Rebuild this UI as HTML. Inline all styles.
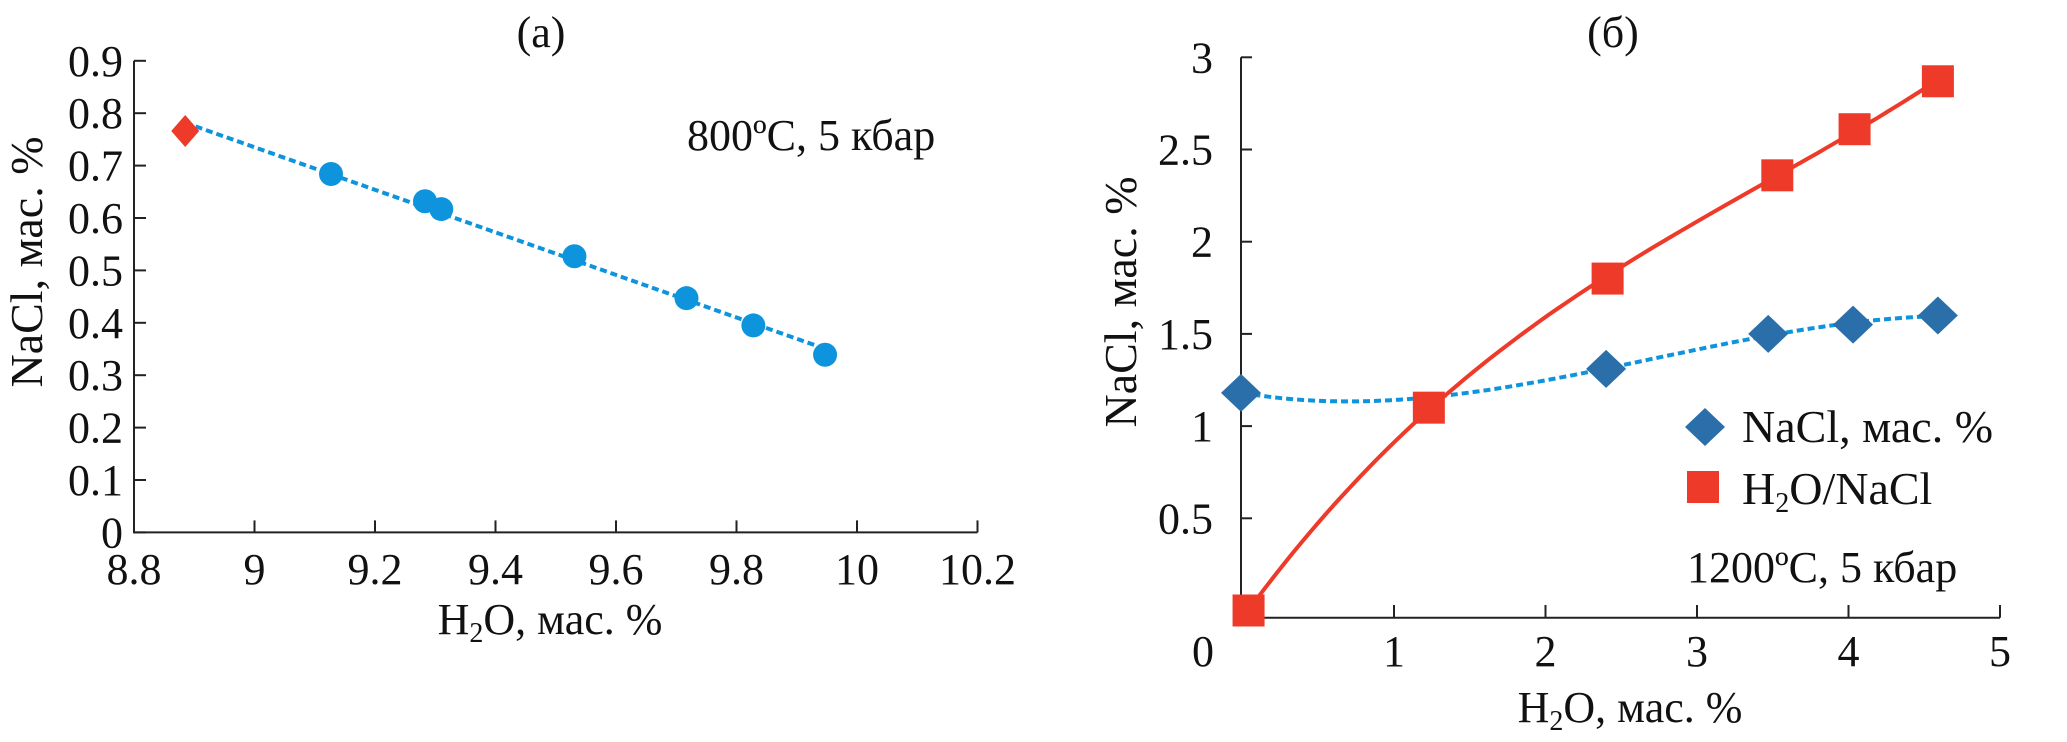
<!DOCTYPE html>
<html><head><meta charset="utf-8"><style>
html,body{margin:0;padding:0;background:#fff;}
svg{display:block;font-family:"Liberation Serif","DejaVu Serif",serif;}
</style></head><body>
<svg id="c" width="2067" height="742" viewBox="0 0 2067 742" xmlns="http://www.w3.org/2000/svg">
<g id="pa"></g>
<g id="pb"></g>
</svg>
<script>
// Panel (a) data
const aXTicks = [8.8, 9, 9.2, 9.4, 9.6, 9.8, 10, 10.2];
const aXTickLabels = ["8.8", "9", "9.2", "9.4", "9.6", "9.8", "10", "10.2"];
const aYTicks = [0, 0.1, 0.2, 0.3, 0.4, 0.5, 0.6, 0.7, 0.8, 0.9];
const aYTickLabels = ["0", "0.1", "0.2", "0.3", "0.4", "0.5", "0.6", "0.7", "0.8", "0.9"];
const aDiamondX = [8.885];
const aDiamondY = [0.766];
const aCircleX = [9.127, 9.283, 9.31, 9.531, 9.717, 9.828, 9.947];
const aCircleY = [0.684, 0.632, 0.617, 0.527, 0.447, 0.395, 0.339];
// Panel (b) data
const bXTicks = [0, 1, 2, 3, 4, 5];
const bXTickLabels = ["0", "1", "2", "3", "4", "5"];
const bYTicks = [0.5, 1, 1.5, 2, 2.5, 3];
const bYTickLabels = ["0.5", "1", "1.5", "2", "2.5", "3"];
const bNaclX = [0, 2.40, 3.47, 4.03, 4.59];
const bNaclY = [1.18, 1.31, 1.50, 1.55, 1.60];
const bH2oX = [0.04, 1.23, 2.41, 3.53, 4.04, 4.59];
const bH2oY = [0.00, 1.10, 1.80, 2.36, 2.61, 2.87];

const NS = "http://www.w3.org/2000/svg";
function mk(parent, tag, attrs, text) {
  const e = document.createElementNS(NS, tag);
  for (const k in attrs) e.setAttribute(k, attrs[k]);
  if (text !== undefined) e.textContent = text;
  parent.appendChild(e);
  return e;
}
function polyfit(xs, ys, deg) {
  const n = xs.length, A = [], B = [];
  for (let r=0;r<=deg;r++){A.push([]);for(let c=0;c<=deg;c++){let s=0;for(let i=0;i<n;i++)s+=Math.pow(xs[i],r+c);A[r].push(s);}let s=0;for(let i=0;i<n;i++)s+=ys[i]*Math.pow(xs[i],r);B.push(s);}
  for (let i=0;i<=deg;i++){let p=i;for(let k=i+1;k<=deg;k++)if(Math.abs(A[k][i])>Math.abs(A[p][i]))p=k;[A[i],A[p]]=[A[p],A[i]];[B[i],B[p]]=[B[p],B[i]];
    for(let k=i+1;k<=deg;k++){const f=A[k][i]/A[i][i];for(let c=i;c<=deg;c++)A[k][c]-=f*A[i][c];B[k]-=f*B[i];}}
  const co = new Array(deg+1).fill(0);
  for (let i=deg;i>=0;i--){let s=B[i];for(let c=i+1;c<=deg;c++)s-=A[i][c]*co[c];co[i]=s/A[i][i];}
  return co;
}
const BLUE = "#0e94dc", DBLUE = "#2a6fa9", RED = "#ee3a29", AX = "#222";

// ---------- Panel (a)
const pa = document.getElementById("pa");
const ax = v => 134 + (v - 8.8) * 602.5;
const ay = v => 532.4 - v * 524;
let e;
e = mk(pa, "path", {d: `M${ax(8.8)},${ay(0.9)} L${ax(8.8)},${ay(0)} L${ax(10.2)},${ay(0)}`, fill: "none", stroke: AX, "stroke-width": 2});


aYTicks.forEach((t, i) => {
  e = mk(pa, "line", {x1: ax(8.8), x2: ax(8.8) + 12, y1: ay(t), y2: ay(t), stroke: AX, "stroke-width": 2});
  
  
  e = mk(pa, "text", {x: 123, y: ay(t) + 15, "text-anchor": "end", "font-size": 44, fill: "#111"}, aYTickLabels[i]);
  
  
});
aXTicks.forEach((t, i) => {
  if (i > 0) {
    e = mk(pa, "line", {x1: ax(t), x2: ax(t), y1: ay(0), y2: ay(0) - 12, stroke: AX, "stroke-width": 2});
    
    
  }
  e = mk(pa, "text", {x: ax(t), y: 584, "text-anchor": "middle", "font-size": 44, fill: "#111"}, aXTickLabels[i]);
  
  
});
(function(){
  const xs = aDiamondX.concat(aCircleX), ys = aDiamondY.concat(aCircleY);
  const co = polyfit(xs, ys, 1);
  const x1 = Math.min(...xs), x2 = Math.max(...xs);
  e = mk(pa, "line", {x1: ax(x1), y1: ay(co[0]+co[1]*x1), x2: ax(x2), y2: ay(co[0]+co[1]*x2), stroke: BLUE, "stroke-width": 4, "stroke-dasharray": "7 4"});
  
  
})();
aCircleX.forEach((x, i) => {
  e = mk(pa, "ellipse", {cx: ax(x), cy: ay(aCircleY[i]), rx: 12, ry: 12, fill: BLUE});
  
  
});
aDiamondX.forEach((x, i) => {
  const cx = ax(x), cy = ay(aDiamondY[i]);
  e = mk(pa, "polygon", {points: `${cx},${cy-16} ${cx+14},${cy} ${cx},${cy+16} ${cx-14},${cy}`, fill: RED});
  
  
});
e = mk(pa, "text", {x: 541, y: 47, "text-anchor": "middle", "font-size": 44, fill: "#111"}, "(a)");


e = mk(pa, "text", {x: 687, y: 150, "font-size": 44, fill: "#111"}, "800ºC, 5 кбар");


e = mk(pa, "text", {x: 550, y: 634, "text-anchor": "middle", "font-size": 44, fill: "#111"});
e.innerHTML = 'H<tspan font-size="28" dy="8">2</tspan><tspan dy="-8">O, мас. %</tspan>';


e = mk(pa, "text", {x: 0, y: 0, transform: "translate(42,262) rotate(-90)", "text-anchor": "middle", "font-size": 46, fill: "#111"}, "NaCl, мас. %");



// ---------- Panel (b)
const pb = document.getElementById("pb");
const bx = v => 1242.5 + v * 151.5;
const by = v => 610.5 - v * 184.4;
e = mk(pb, "path", {d: `M1241,${by(3)} L1241,617.7 L${bx(5)},617.7`, fill: "none", stroke: AX, "stroke-width": 2});


bYTicks.forEach((t, i) => {
  e = mk(pb, "line", {x1: 1241, x2: 1252, y1: by(t), y2: by(t), stroke: AX, "stroke-width": 2});
  
  
  e = mk(pb, "text", {x: 1213, y: by(t) + 15, "text-anchor": "end", "font-size": 44, fill: "#111"}, bYTickLabels[i]);
  
  
});
bXTicks.forEach((t, i) => {
  if (i > 0) {
    e = mk(pb, "line", {x1: bx(t), x2: bx(t), y1: 617.7, y2: 605, stroke: AX, "stroke-width": 2});
    
    
  }
  e = mk(pb, "text", {x: i === 0 ? 1203 : bx(t), y: 666, "text-anchor": "middle", "font-size": 44, fill: "#111"}, bXTickLabels[i]);
  
  
});
function fitPath(xs, ys, deg) {
  const co = polyfit(xs, ys, deg);
  const x1 = Math.min(...xs), x2 = Math.max(...xs);
  let d = "";
  for (let k=0;k<=80;k++){const x=x1+(x2-x1)*k/80;let y=0;for(let c=0;c<=deg;c++)y+=co[c]*Math.pow(x,c);d+=(k?"L":"M")+bx(x).toFixed(1)+","+by(y).toFixed(1);}
  return d;
}
e = mk(pb, "path", {d: fitPath(bNaclX, bNaclY, 3), fill: "none", stroke: BLUE, "stroke-width": 4, "stroke-dasharray": "7 4"});


e = mk(pb, "path", {d: fitPath(bH2oX, bH2oY, 3), fill: "none", stroke: RED, "stroke-width": 4});


bH2oX.forEach((x, i) => {
  e = mk(pb, "rect", {x: bx(x) - 16, y: by(bH2oY[i]) - 16, width: 32, height: 32, fill: RED});
  
  
});
bNaclX.forEach((x, i) => {
  const cx = bx(x) - (i === 0 ? 1.5 : 0), cy = by(bNaclY[i]);
  e = mk(pb, "polygon", {points: `${cx},${cy-19} ${cx+20},${cy} ${cx},${cy+19} ${cx-20},${cy}`, fill: DBLUE});
  
  
});
e = mk(pb, "polygon", {points: "1705,408 1725,427 1705,446 1685,427", fill: DBLUE});


e = mk(pb, "text", {x: 1742, y: 442, "font-size": 46, fill: "#111"}, "NaCl, мас. %");


e = mk(pb, "rect", {x: 1687, y: 471, width: 32, height: 32, fill: RED});


e = mk(pb, "text", {x: 1742, y: 504, "font-size": 46, fill: "#111"});
e.innerHTML = 'H<tspan font-size="28" dy="8">2</tspan><tspan dy="-8">O/NaCl</tspan>';


e = mk(pb, "text", {x: 1687, y: 582, "font-size": 44, fill: "#111"}, "1200ºC, 5 кбар");


e = mk(pb, "text", {x: 1613, y: 47, "text-anchor": "middle", "font-size": 44, fill: "#111"}, "(б)");


e = mk(pb, "text", {x: 1630, y: 722, "text-anchor": "middle", "font-size": 44, fill: "#111"});
e.innerHTML = 'H<tspan font-size="28" dy="8">2</tspan><tspan dy="-8">O, мас. %</tspan>';


e = mk(pb, "text", {x: 0, y: 0, transform: "translate(1136,302) rotate(-90)", "text-anchor": "middle", "font-size": 46, fill: "#111"}, "NaCl, мас. %");


</script>
</body></html>
